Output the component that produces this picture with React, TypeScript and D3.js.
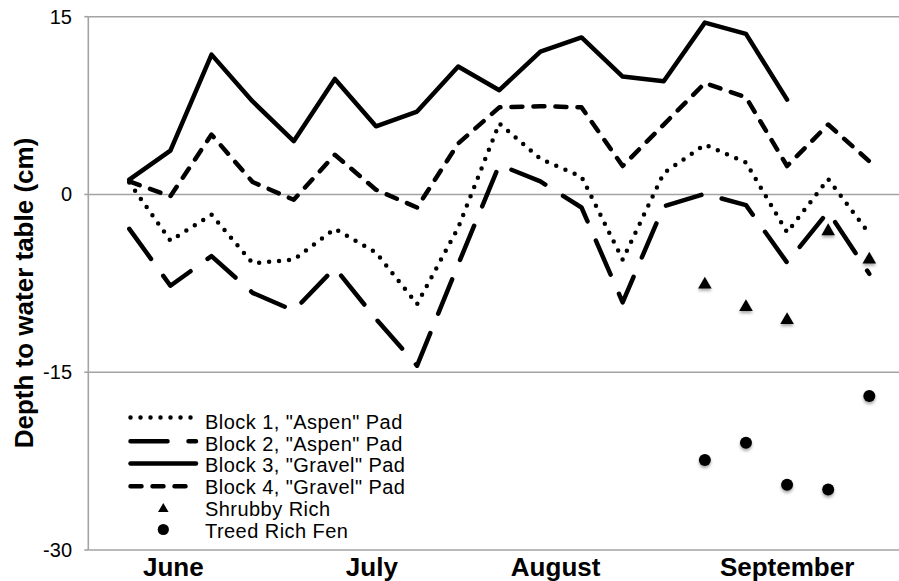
import React from "react";
import * as d3 from "d3";

// Sampling occasions along the category axis (index 0..18)
const sampleIndex: number[] = d3.range(19);

// Depth to water table (cm) per block, one value per sampling occasion
const block1Aspen: (number | null)[] = [1.0, -3.9, -1.7, -5.8, -5.5, -2.9, -4.9, -9.25, -2.8, 6.0, 3.0, 1.5, -5.5, 1.8, 4.2, 2.7, -3.2, 1.3, -3.3];
const block2Aspen: (number | null)[] = [-2.9, -7.7, -5.2, -8.3, -9.8, -6.2, -10.5, -14.45, -5.9, 2.5, 1.1, -1.1, -9.1, -1.0, 0.05, -0.9, -5.75, -1.45, -6.7];
const block3Gravel: (number | null)[] = [1.25, 3.7, 11.8, 7.85, 4.5, 9.75, 5.75, 7.0, 10.8, 8.8, 12.05, 13.25, 9.95, 9.55, 14.5, 13.55, 8.0, null, null];
const block4Gravel: (number | null)[] = [1.1, -0.15, 5.05, 1.05, -0.45, 3.35, 0.4, -1.1, 4.3, 7.35, 7.45, 7.35, 2.4, 5.9, 9.4, 8.2, 2.4, 5.9, 2.8];

// Reference fens, sampled only on the last five occasions
const fenIndex: number[] = [14, 15, 16, 17, 18];
const shrubbyRich: number[] = [-7.6, -9.5, -10.6, -3.1, -5.5];
const treedRichFen: number[] = [-22.4, -20.95, -24.5, -24.9, -17.0];

// Axis labels
const yTicks: number[] = [15, 0, -15, -30];
const monthLabels: string[] = ["June", "July", "August", "September"];
const monthAt: number[] = [1.07, 5.9, 10.37, 16.0];

const legendNames: string[] = [
  'Block 1, "Aspen" Pad',
  'Block 2, "Aspen" Pad',
  'Block 3, "Gravel" Pad',
  'Block 4, "Gravel" Pad',
  "Shrubby Rich",
  "Treed Rich Fen",
];

const W = 899;
const H = 581;
const FONT = '"Liberation Sans", Arial, Helvetica, sans-serif';
const AXIS_X = 88.3;
const STROKE = 4.5;

const lineStyles = [
  { dash: "0 10" },
  { dash: "37 21" },
  { dash: null },
  { dash: "11 11" },
];

export default function App() {
  const x = d3.scaleLinear().domain([0, 18]).range([129.3, 869.3]);
  const y = d3.scaleLinear().domain([-30, 15]).range([550, 16.7]);

  const line = d3
    .line<[number, number | null]>()
    .defined((d) => d[1] !== null)
    .x((d) => x(d[0]))
    .y((d) => y(d[1] as number));

  const series = [block1Aspen, block2Aspen, block3Gravel, block4Gravel];

  const tri = d3.symbol(d3.symbolTriangle, 80)()!;
  const triSmall = d3.symbol(d3.symbolTriangle, 48)()!;

  const legendLineY = [417.5, 441.2, 463.6, 486.2];
  const legendTextY = [428.5, 450.6, 472.2, 494.0, 515.8, 537.6];
  const legendMarkY = [509, 529.5];

  return (
    <svg
      width={W}
      height={H}
      viewBox={`0 0 ${W} ${H}`}
      style={{ position: "absolute", left: 0, top: 0, background: "#fff" }}
      fontFamily={FONT}
    >
      <defs>
        <filter id="markShadow" x="-50%" y="-50%" width="200%" height="220%">
          <feDropShadow dx="0" dy="2.2" stdDeviation="1.4" floodColor="#000" floodOpacity="0.35" />
        </filter>
      </defs>
      <rect width={W} height={H} fill="#fff" />

      {/* horizontal gridlines */}
      {yTicks
        .filter((t) => t !== -30)
        .map((t) => (
          <line key={`g${t}`} x1={AXIS_X} x2={W} y1={y(t)} y2={y(t)} stroke="#a3a3a3" strokeWidth={1.6} />
        ))}

      {/* axes */}
      <line x1={AXIS_X} x2={AXIS_X} y1={y(15)} y2={y(-30)} stroke="#a3a3a3" strokeWidth={1.6} />
      <line x1={AXIS_X} x2={W} y1={y(-30)} y2={y(-30)} stroke="#a3a3a3" strokeWidth={1.6} />
      {yTicks.map((t) => (
        <g key={`t${t}`}>
          <line x1={AXIS_X - 4} x2={AXIS_X} y1={y(t)} y2={y(t)} stroke="#a3a3a3" strokeWidth={1.6} />
          <text x={72} y={y(t) + 7} fontSize={20} textAnchor="end" fill="#000">
            {t}
          </text>
        </g>
      ))}

      {/* month labels */}
      {monthLabels.map((m, i) => (
        <text key={m} x={x(monthAt[i])} y={576} fontSize={26} fontWeight="bold" textAnchor="middle" fill="#000">
          {m}
        </text>
      ))}

      {/* y axis title */}
      <text
        transform={`translate(33,293) rotate(-90)`}
        fontSize={26}
        fontWeight="bold"
        textAnchor="middle"
        fill="#000"
      >
        Depth to water table (cm)
      </text>

      {/* block lines */}
      {series.map((vals, k) => (
        <path
          key={`s${k}`}
          d={line(sampleIndex.map((i) => [i, vals[i]] as [number, number | null])) || ""}
          fill="none"
          stroke="#000"
          strokeWidth={STROKE}
          strokeLinecap="round"
          strokeLinejoin="round"
          strokeDasharray={lineStyles[k].dash || undefined}
        />
      ))}

      {/* fen markers */}
      <g filter="url(#markShadow)">
        {fenIndex.map((i, k) => (
          <path key={`sh${i}`} d={tri} transform={`translate(${x(i)},${y(shrubbyRich[k])})`} fill="#000" />
        ))}
        {fenIndex.map((i, k) => (
          <circle key={`tr${i}`} cx={x(i)} cy={y(treedRichFen[k])} r={6} fill="#000" />
        ))}
      </g>

      {/* legend */}
      {lineStyles.map((s, k) => (
        <line
          key={`ll${k}`}
          x1={130.5}
          x2={196}
          y1={legendLineY[k]}
          y2={legendLineY[k]}
          stroke="#000"
          strokeWidth={STROKE}
          strokeLinecap="round"
          strokeDasharray={s.dash || undefined}
        />
      ))}
      <path d={triSmall} transform={`translate(163.3,${legendMarkY[0]})`} fill="#000" />
      <circle cx={163.3} cy={legendMarkY[1]} r={5.6} fill="#000" />
      {legendNames.map((n, k) => (
        <text key={n} x={205} y={legendTextY[k]} fontSize={20} letterSpacing={0.45} fill="#000">
          {n}
        </text>
      ))}
    </svg>
  );
}
